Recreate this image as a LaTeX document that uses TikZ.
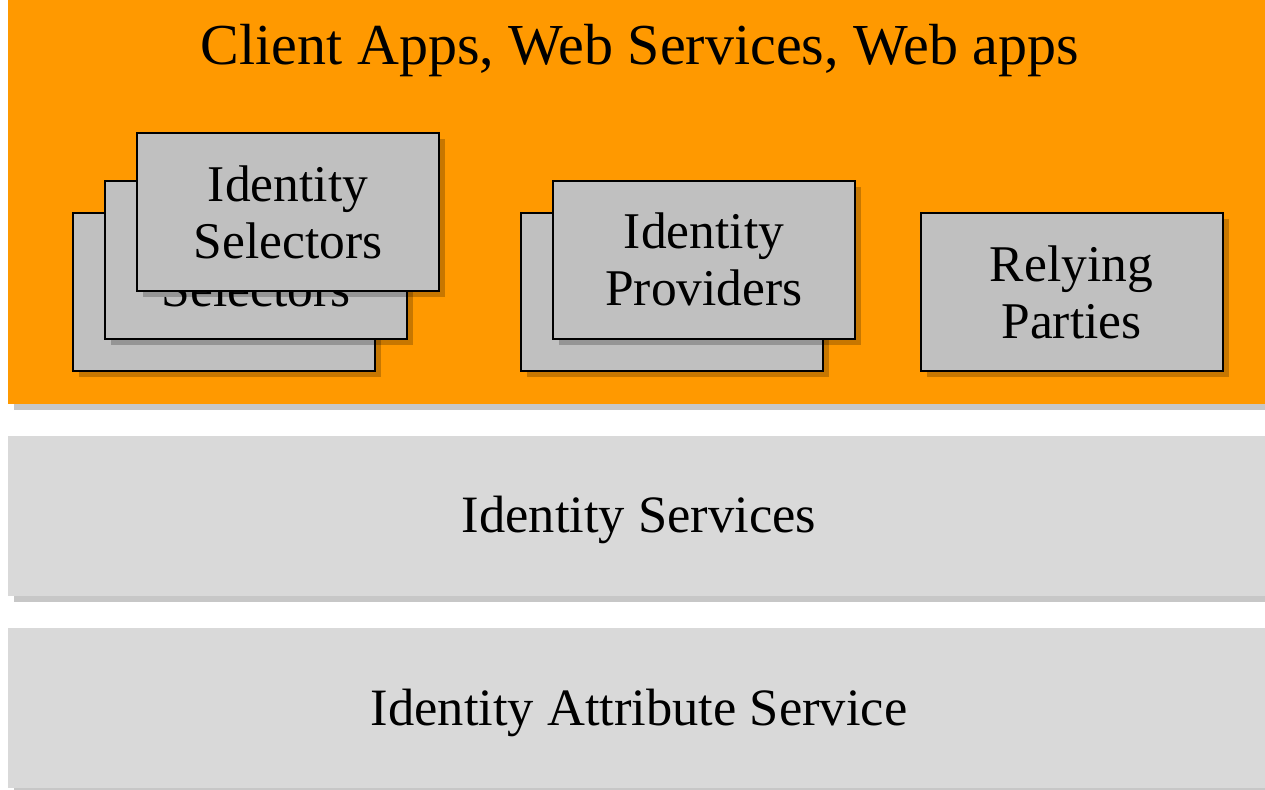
\documentclass[tikz,border=0pt]{standalone}
\usepackage{fontspec}
\setmainfont{Liberation Serif}
\usetikzlibrary{shadows}
\definecolor{bandorange}{HTML}{FF9900}
\definecolor{bandgray}{HTML}{D9D9D9}
\definecolor{boxgray}{HTML}{C0C0C0}
\tikzset{
  shad/.style={drop shadow={shadow xshift=6pt,shadow yshift=-6pt,opacity=.22,fill=black}},
  band/.style={rectangle,inner sep=0pt,minimum width=1257pt,minimum height=160pt,fill=bandgray,shad},
  layerbox/.style={rectangle,draw=black,line width=2pt,fill=boxgray,minimum width=302pt,minimum height=158pt,
    align=center,inner sep=0pt,font=\fontsize{51.5}{57}\selectfont,shad},
  bandtext/.style={anchor=base,inner sep=0pt,font=\fontsize{52.5}{57}\selectfont},
  titletext/.style={anchor=base,inner sep=0pt,font=\fontsize{58}{64}\selectfont}
}
\begin{document}
\begin{tikzpicture}[x=1pt,y=-1pt]
\useasboundingbox (0,0) rectangle (1265,789);
% bands
\node[band,fill=bandorange,minimum height=404pt] (top) at (636.5,202) {};
\node[band] (svc) at (636.5,516) {};
\node[band] (attr) at (636.5,708) {};
\node[titletext] (title) at (640,65) {Client Apps, Web Services, Web apps};
\node[bandtext] (svctext) at (639,532) {Identity Services};
\node[bandtext] (attrtext) at (639,725) {Identity Attribute Service};
% identity selectors stack
\node[layerbox] (selA) at (224,292) {};
\node[layerbox] (selB) at (256,260) {Identity\\Selectors};
\node[layerbox] (selC) at (288,212) {Identity\\Selectors};
% identity providers stack
\node[layerbox] (provA) at (671.5,292) {};
\node[layerbox] (provB) at (704,259.5) {Identity\\Providers};
% relying parties
\node[layerbox] (rel) at (1071.5,292) {Relying\\Parties};
\end{tikzpicture}
\end{document}
